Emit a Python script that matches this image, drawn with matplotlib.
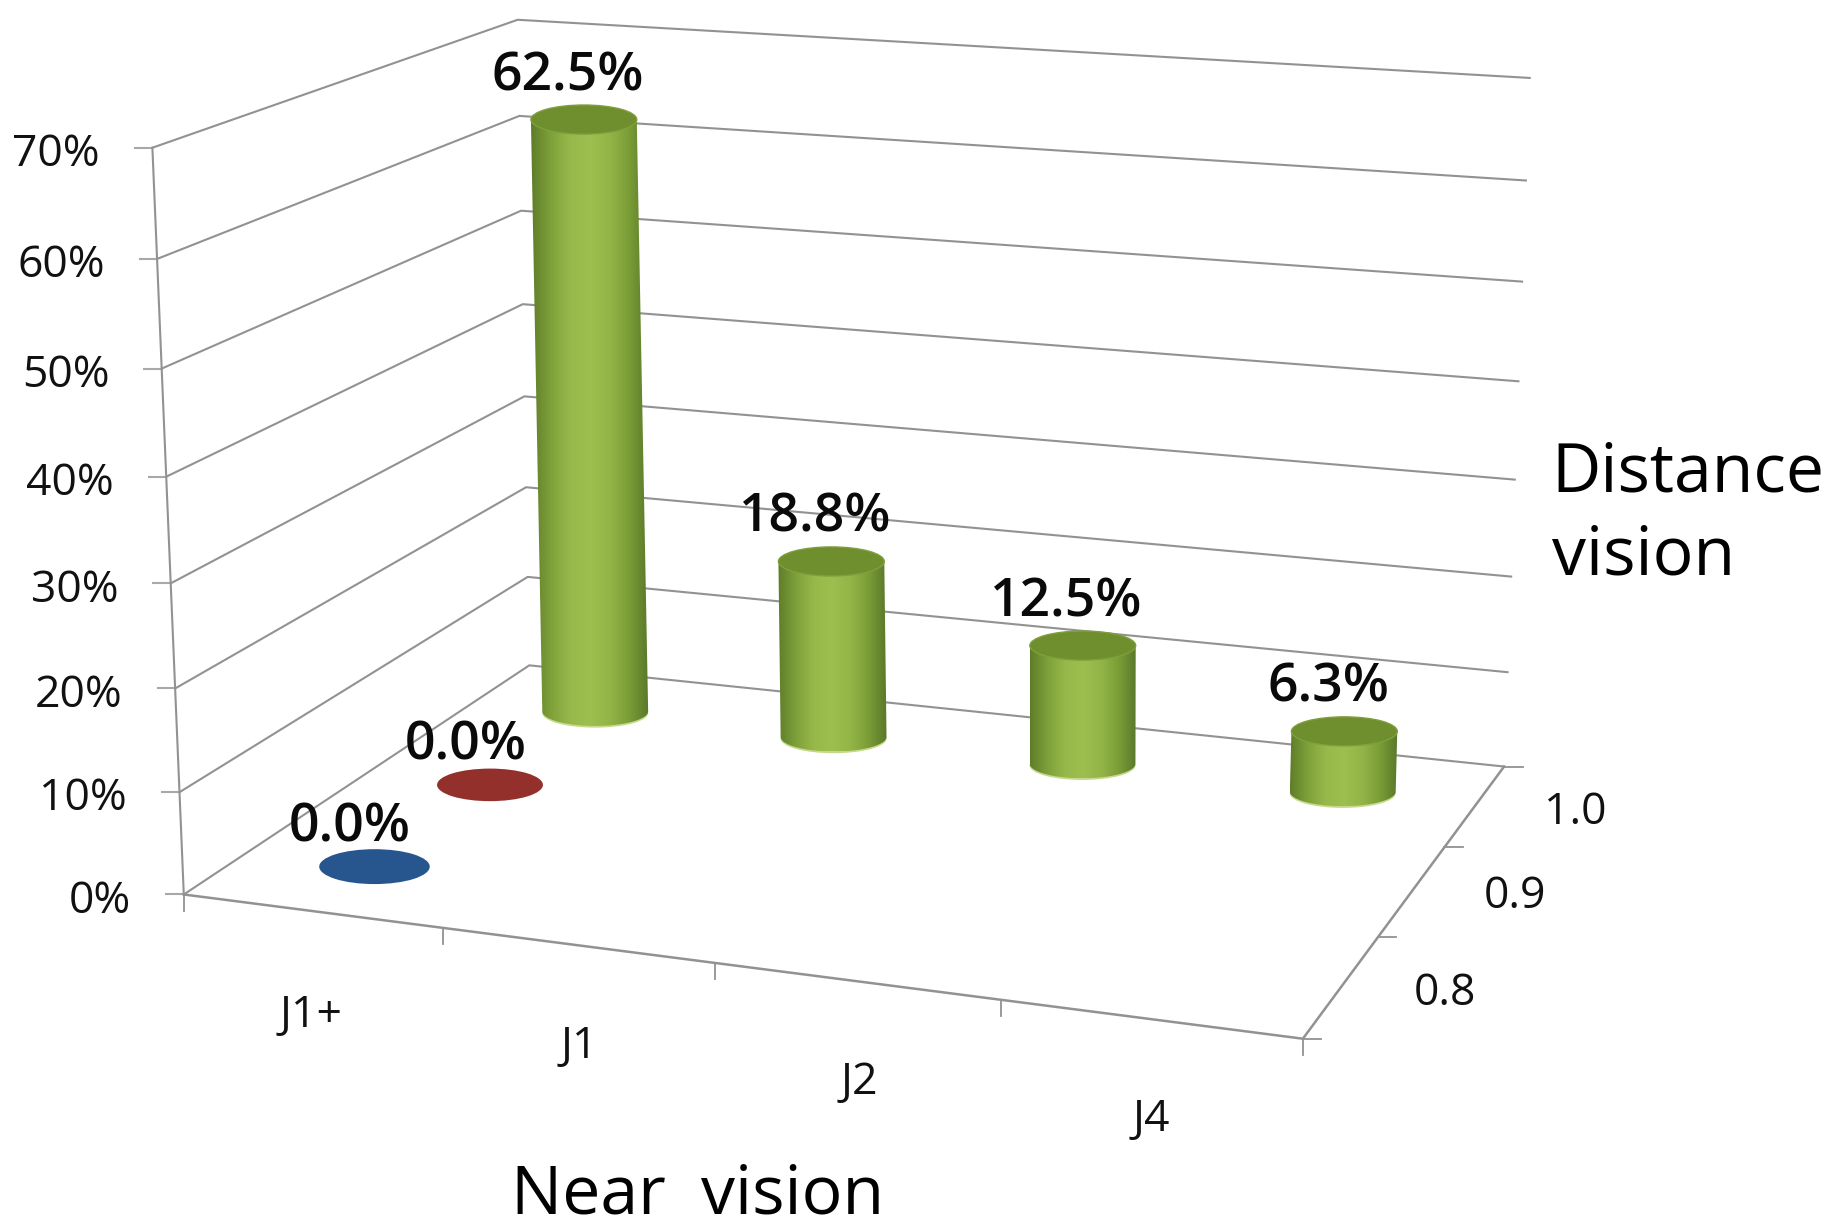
import numpy as np
import matplotlib
matplotlib.use('Agg')
import matplotlib.pyplot as plt
from matplotlib.colors import LinearSegmentedColormap
from matplotlib.patches import Ellipse, PathPatch
from matplotlib.path import Path

near_labels = ['J1+', 'J1', 'J2', 'J4']
distance_labels = ['0.8', '0.9', '1.0']
percent_ticks = [0, 10, 20, 30, 40, 50, 60, 70]

# (near index, distance index, percent)
near_index = [0, 0, 0, 1, 2, 3]
distance_index = [0, 1, 2, 2, 2, 2]
percent = [0.0, 0.0, 62.5, 18.8, 12.5, 6.3]
bar_colors = ['#27568f', '#93302b', 'g', 'g', 'g', 'g']

plt.rcParams['font.family'] = ['Open Sans', 'DejaVu Sans']
LINE = '#929292'
TEXT = '#111111'
green_cm = LinearSegmentedColormap.from_list(
    'cyl', ['#5f7d2a', '#7fa13a', '#97b94b', '#9dbf4f', '#93b548', '#7b9d36', '#5a782b'])

# chart corners in picture pixels (shrunk frame), floor then ceiling
floor_q = np.array([[158, 769], [1120, 893], [1293, 659], [455, 572]], float)
top_q = np.array([[131, 127], [1159, 208], [1315, 67], [445, 17]], float)


def homography(q):
    src = [(0, 0), (1, 0), (1, 1), (0, 1)]
    a, b = [], []
    for (u, v), (x, y) in zip(src, q):
        a.append([u, v, 1, 0, 0, 0, -u * x, -v * x])
        a.append([0, 0, 0, u, v, 1, -u * y, -v * y])
        b += [x, y]
    return np.append(np.linalg.solve(np.array(a), np.array(b)), 1).reshape(3, 3)


H_floor = homography(floor_q)
H_top = homography(top_q)


def apply(h, u, v):
    p = h @ np.array([u, v, 1.0])
    return p[:2] / p[2]


def project(u, v, val=0.0):
    a = apply(H_floor, u, v)
    b = apply(H_top, u, v)
    t = val / 70.0
    # upward foreshortening of the value axis
    return a + (b - a) * t / (t + 1.05 * (1 - t))


def draw_cylinder(ax, base, top, w, h):
    rx, ry = w / 2, h / 2
    t = np.linspace(0, np.pi, 60)
    lower = np.c_[base[0] + rx * np.cos(t), base[1] + ry * np.sin(t)]
    outline = np.vstack([[top[0] + rx, top[1]], lower, [top[0] - rx, top[1]], [top[0] + rx, top[1]]])
    left, right = outline[:, 0].min(), outline[:, 0].max()
    # pale rim at the foot
    ax.add_patch(Ellipse((base[0], base[1] + 1.5), w, h, fc='#c4d98a', ec='none', zorder=3))
    im = ax.imshow(np.linspace(0, 1, 128).reshape(1, -1), cmap=green_cm, aspect='auto',
                   extent=(left, right, outline[:, 1].max(), outline[:, 1].min()), zorder=4)
    im.set_clip_path(PathPatch(Path(outline), transform=ax.transData))
    ax.add_patch(Ellipse(top, w, h, fc='#6f8f2e', ec='#7f9f3c', lw=1, zorder=5))


fig = plt.figure(figsize=(18.24, 12.19), dpi=100)
ax = fig.add_axes([0, 0, 1, 1])

# walls
for p in percent_ticks:
    a = project(0, 0, p)
    b = project(0, 1, p)
    c = project(1, 1, p)
    ax.plot([a[0], b[0], c[0]], [a[1], b[1], c[1]], color=LINE, lw=1.5, zorder=1)
    ax.plot([a[0] - 15, a[0]], [a[1], a[1]], color='#a8a8a8', lw=1.5, zorder=1)
    ax.text(a[0] - 45, a[1] + 6, '%d%%' % p, ha='right', va='center', fontsize=32, color=TEXT)

a = project(0, 0, 0)
b = project(0, 0, 70)
ax.plot([a[0], b[0]], [a[1], b[1]], color=LINE, lw=1.5, zorder=1)

# floor edges and ticks
corners = [project(0, 0), project(1, 0), project(1, 1)]
ax.plot(*zip(*corners), color=LINE, lw=1.8, zorder=1)
for i in range(len(near_labels) + 1):
    p = project(i / len(near_labels), 0)
    ax.plot([p[0], p[0]], [p[1], p[1] + 14], color=LINE, lw=1.3, zorder=1)
for i in range(len(distance_labels) + 1):
    p = project(1, i / len(distance_labels))
    ax.plot([p[0], p[0] + 16], [p[1], p[1]], color=LINE, lw=1.3, zorder=1)

near_xy = [(267, 873), (498, 900), (739, 931), (990, 963)]
for lab, xy in zip(near_labels, near_xy):
    ax.text(xy[0], xy[1], lab, ha='center', va='center', fontsize=32, color=TEXT)
distance_xy = [(1242, 854), (1302, 771), (1354, 699)]
for lab, xy in zip(distance_labels, distance_xy):
    ax.text(xy[0], xy[1], lab, ha='center', va='center', fontsize=32, color=TEXT)

# marks
for n, d, val, col in zip(near_index, distance_index, percent, bar_colors):
    v = (d + 0.5) / len(distance_labels)
    if col == 'g':
        u = (n + 0.505 + 0.001 * n) / len(near_labels)
        base = project(u, v)
        top = project(u, v, val)
        draw_cylinder(ax, base, top, 91, 25)
        ax.text(top[0] - 14, top[1] - 37, '%.1f%%' % val, ha='center', va='center', fontsize=38.5,
                fontweight='semibold', color='#0a0a0a', zorder=6)
    else:
        u = (n + 0.5) / len(near_labels)
        top = project(u, v, val)
        ax.add_patch(Ellipse(top, 95 - 4 * d, 30 - 2 * d, fc=col, ec='none', zorder=3))
        ax.text(top[0] - 21, top[1] - 33, '%.1f%%' % val, ha='center', va='center', fontsize=38.5,
                fontweight='semibold', color='#0a0a0a', zorder=6)

ax.text(1334, 407, 'Distance', ha='left', va='center', fontsize=49, color='#000000')
ax.text(1334, 479, 'vision', ha='left', va='center', fontsize=49, color='#000000')
ax.text(600, 1043, 'Near  vision', ha='center', va='baseline', fontsize=49, color='#000000')

ax.set_xlim(0, 1568)
ax.set_ylim(1048, 0)
ax.axis('off')
fig.savefig('out.png', dpi=100, facecolor='white')
